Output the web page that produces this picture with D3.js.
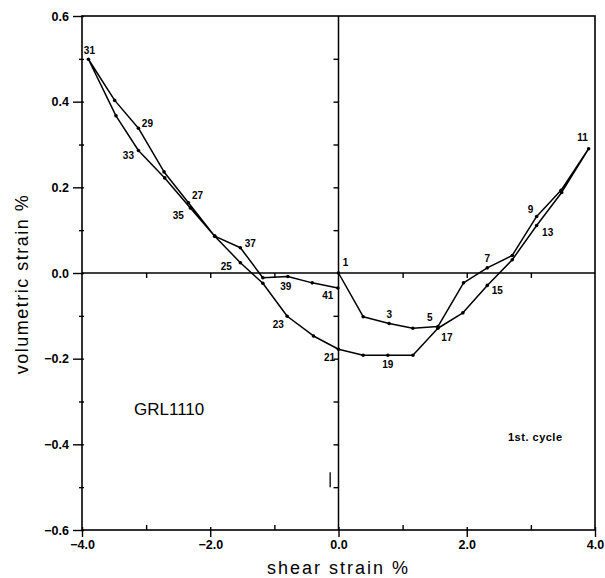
<!DOCTYPE html>
<html><head><meta charset="utf-8">
<script src="https://cdn.jsdelivr.net/npm/d3@7"></script>
<style>body{margin:0;background:#fff}svg{display:block}</style>
</head><body>
<svg id="chart" width="605" height="578"></svg>
<script>
// ---- data ----
const pointNumbers = d3.range(1, 42);
const shearStrain = [
  0.00, 0.385, 0.79, 1.16, 1.55, 1.95, 2.32, 2.71, 3.09, 3.47, 3.90,
  3.48, 3.09, 2.71, 2.32, 1.94, 1.55, 1.16, 0.77, 0.385, 0.00,
  -0.39, -0.80, -1.18, -1.53, -1.93, -2.34, -2.72, -3.12, -3.49, -3.90,
  -3.47, -3.12, -2.71, -2.31, -1.93, -1.53, -1.18, -0.79, -0.41, -0.01
];
const volStrain = [
  0.000, -0.102, -0.118, -0.129, -0.125, -0.023, 0.012, 0.041, 0.132, 0.193, 0.290,
  0.188, 0.111, 0.031, -0.029, -0.093, -0.129, -0.192, -0.192, -0.192, -0.178,
  -0.147, -0.101, -0.024, 0.024, 0.086, 0.164, 0.236, 0.338, 0.403, 0.499,
  0.367, 0.286, 0.222, 0.152, 0.086, 0.059, -0.011, -0.008, -0.023, -0.035
];
const labelledPoints = [1,3,5,7,9,11,13,15,17,19,21,23,25,27,29,31,33,35,37,39,41];
const xTickValues = [-4, -2, 0, 2, 4];
const xTickLabels = ["\u22124.0", "\u22122.0", "0.0", "2.0", "4.0"];
const yTickValues = [-0.6, -0.4, -0.2, 0, 0.2, 0.4, 0.6];
const yTickLabels = ["\u22120.6", "\u22120.4", "\u22120.2", "0.0", "0.2", "0.4", "0.6"];

// label placement (layout only)
const labelOffsets = {
  1:[7,-11], 3:[0,-9], 5:[-8,-9], 7:[0,-9], 9:[-6,-7], 11:[-6,-11],
  13:[11,7], 15:[10,5], 17:[9,9], 19:[0,9], 21:[-9,8], 23:[-9,8],
  25:[-14,4], 27:[9,-7], 29:[9,-5], 31:[1,-9], 33:[-10,5], 35:[-12,8],
  37:[10,-4], 39:[-2,10], 41:[-10,8]
};

const svg = d3.select("#chart");
const L = 82, R = 595, T = 16, B = 530;
const x = d3.scaleLinear().domain([-4, 4]).range([L, R]);
const y = d3.scaleLinear().domain([-0.6, 0.6]).range([B, T]);
const font = "'Liberation Sans', Arial, sans-serif";

// frame
svg.append("rect").attr("x", L).attr("y", T).attr("width", R - L).attr("height", B - T)
  .attr("fill", "none").attr("stroke", "#000").attr("stroke-width", 1.6);
// zero lines
svg.append("line").attr("x1", L).attr("x2", R).attr("y1", y(0)).attr("y2", y(0))
  .attr("stroke", "#000").attr("stroke-width", 1.5);
svg.append("line").attr("x1", x(0)).attr("x2", x(0)).attr("y1", T).attr("y2", B)
  .attr("stroke", "#000").attr("stroke-width", 1.5);

const xMinor = [-3, -1, 1, 3];
const yMinor = d3.range(-5, 6, 2).map(v => v / 10);

// bottom axis
const bottom = svg.append("g").attr("transform", `translate(0,${B})`);
bottom.call(d3.axisBottom(x).tickValues(xTickValues).tickSize(7).tickFormat((d, i) => xTickLabels[i]).tickPadding(3));
bottom.append("g").call(d3.axisTop(x).tickValues(xTickValues).tickSize(3).tickFormat(""));
bottom.append("g").call(d3.axisTop(x).tickValues(xMinor).tickSize(5).tickFormat(""));
// left axis
const left = svg.append("g").attr("transform", `translate(${L},0)`);
left.call(d3.axisLeft(y).tickValues(yTickValues).tickSize(9).tickFormat((d, i) => yTickLabels[i]).tickPadding(4));
left.append("g").call(d3.axisLeft(y).tickValues(yMinor).tickSize(3).tickFormat(""));
left.append("g").call(d3.axisRight(y).tickValues(yTickValues.concat(yMinor)).tickSize(2).tickFormat(""));
// ticks on zero lines
svg.append("g").attr("transform", `translate(0,${y(0)})`)
  .call(d3.axisBottom(x).tickValues([-3, -2, -1, 1, 2, 3]).tickSize(5).tickFormat(""));
svg.append("g").attr("transform", `translate(${x(0)},0)`)
  .call(d3.axisLeft(y).tickValues([-0.5, -0.4, -0.3, -0.2, -0.1, 0.1, 0.2, 0.3, 0.4, 0.5]).tickSize(5).tickFormat(""));

svg.selectAll(".domain").attr("stroke", "none");
svg.selectAll(".tick line").attr("stroke", "#000").attr("stroke-width", 1.4);
svg.selectAll(".tick text").attr("font-family", font).attr("font-weight", "bold")
  .attr("font-size", 12.5).attr("fill", "#000");

// small stray mark near x=0
svg.append("line").attr("x1", x(-0.13)).attr("x2", x(-0.13)).attr("y1", y(-0.465)).attr("y2", y(-0.5))
  .attr("stroke", "#000").attr("stroke-width", 1.3);

// data path
const pts = pointNumbers.map((n, i) => ({n, x: shearStrain[i], y: volStrain[i]}));
const line = d3.line().x(d => x(d.x)).y(d => y(d.y));
svg.append("path").datum(pts).attr("d", line).attr("fill", "none")
  .attr("stroke", "#000").attr("stroke-width", 1.5).attr("stroke-linejoin", "round");
svg.append("g").selectAll("circle").data(pts).join("circle")
  .attr("cx", d => x(d.x)).attr("cy", d => y(d.y)).attr("r", 1.8).attr("fill", "#000");

// point labels
svg.append("g").selectAll("text").data(pts.filter(d => labelledPoints.includes(d.n))).join("text")
  .attr("x", d => x(d.x) + labelOffsets[d.n][0])
  .attr("y", d => y(d.y) + labelOffsets[d.n][1])
  .attr("dy", "0.35em").attr("text-anchor", "middle")
  .attr("font-family", font).attr("font-weight", "bold").attr("font-size", 10)
  .text(d => d.n);

// annotations
svg.append("text").attr("x", 134).attr("y", 415).attr("font-family", font)
  .attr("font-size", 17).text("GRL1110");
svg.append("text").attr("x", 508).attr("y", 441).attr("font-family", font)
  .attr("font-weight", "bold").attr("font-size", 11).attr("letter-spacing", 0.5).text("1st.  cycle");

// axis titles
svg.append("text").attr("x", x(0)).attr("y", 574).attr("text-anchor", "middle")
  .attr("font-family", font).attr("font-size", 18).attr("letter-spacing", 2)
  .text("shear  strain  %");
svg.append("text").attr("transform", `translate(28,${284}) rotate(-90)`).attr("text-anchor", "middle")
  .attr("font-family", font).attr("font-size", 18).attr("letter-spacing", 1.5)
  .text("volumetric  strain  %");
</script>
</body></html>
